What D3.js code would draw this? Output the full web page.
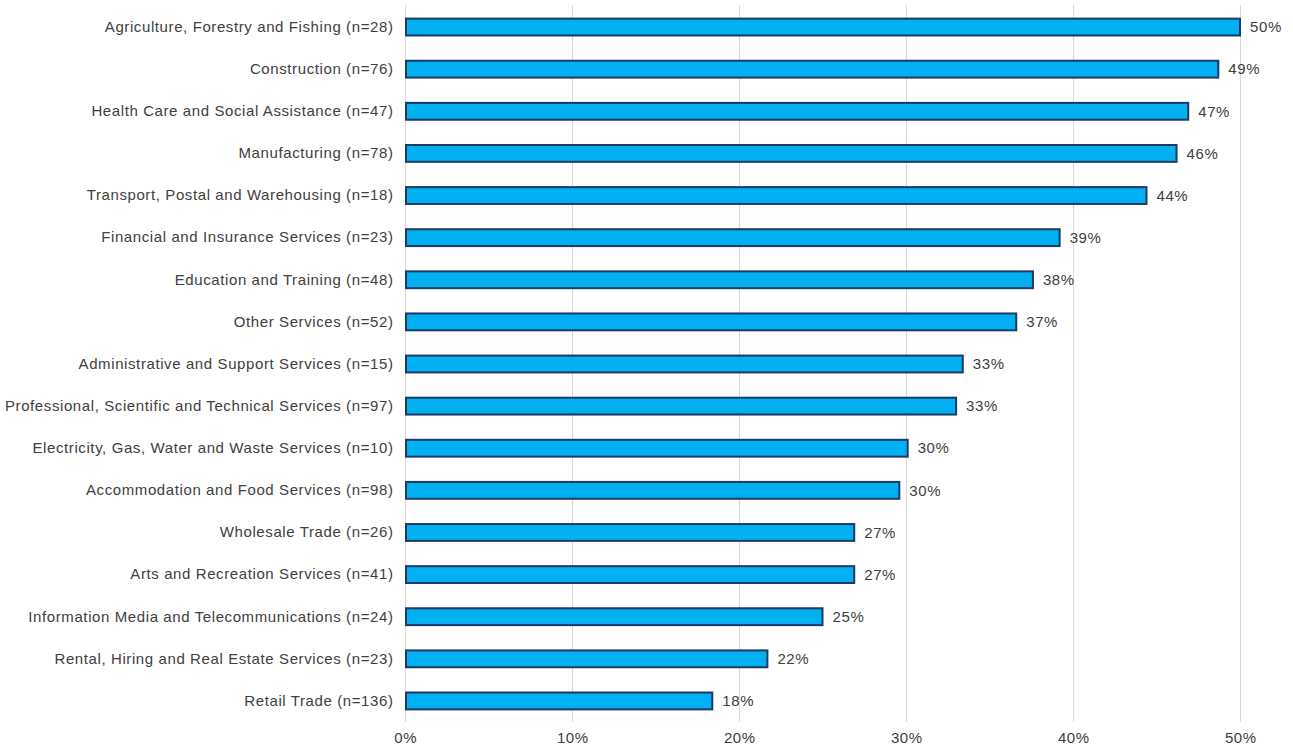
<!DOCTYPE html>
<html>
<head>
<meta charset="utf-8">
<script src="https://cdn.jsdelivr.net/npm/d3@7"></script>
<style>
  html, body { margin: 0; padding: 0; background: #fff; }
  svg { display: block; font-family: "Liberation Sans", Arial, sans-serif; }
  text { letter-spacing: 0.6px; }
</style>
</head>
<body>
<svg id="chart" width="1293" height="749"></svg>
<script>
// Share of businesses by industry (percent), with sample sizes
const industries = [
  "Agriculture, Forestry and Fishing",
  "Construction",
  "Health Care and Social Assistance",
  "Manufacturing",
  "Transport, Postal and Warehousing",
  "Financial and Insurance Services",
  "Education and Training",
  "Other Services",
  "Administrative and Support Services",
  "Professional, Scientific and Technical Services",
  "Electricity, Gas, Water and Waste Services",
  "Accommodation and Food Services",
  "Wholesale Trade",
  "Arts and Recreation Services",
  "Information Media and Telecommunications",
  "Rental, Hiring and Real Estate Services",
  "Retail Trade"
];
const sampleSizes = [28, 76, 47, 78, 18, 23, 48, 52, 15, 97, 10, 98, 26, 41, 24, 23, 136];
const shares = [50.0, 48.7, 46.9, 46.2, 44.4, 39.2, 37.6, 36.6, 33.4, 33.0, 30.1, 29.6, 26.9, 26.9, 25.0, 21.7, 18.4];
const xTicks = [0, 10, 20, 30, 40, 50];

const rows = industries.map((name, i) => ({
  label: `${name} (n=${sampleSizes[i]})`,
  value: shares[i]
}));

const svg = d3.select("#chart");
const plotLeft = 405, plotRight = 1240, plotTop = 6, plotBottom = 722;
const fontSize = 15;
const textColor = "#404040";

const x = d3.scaleLinear().domain([0, 50]).range([plotLeft, plotRight]);
const y = d3.scaleBand()
  .domain(rows.map(d => d.label))
  .range([plotTop, plotBottom])
  .paddingInner(0.6)
  .paddingOuter(0.3);

// vertical gridlines
svg.append("g")
  .selectAll("line")
  .data(xTicks)
  .join("line")
  .attr("x1", d => x(d) + 0.5)
  .attr("x2", d => x(d) + 0.5)
  .attr("y1", 5)
  .attr("y2", 722)
  .attr("stroke", "#d9d9d9")
  .attr("stroke-width", 1);

// x axis labels
const xAxis = d3.axisBottom(x).tickValues(xTicks).tickFormat(d => d + "%").tickSize(0).tickPadding(0);
svg.append("g")
  .attr("transform", `translate(0.3, 732)`)
  .call(xAxis)
  .call(g => g.select(".domain").remove())
  .call(g => g.selectAll("text")
    .attr("fill", textColor)
    .attr("font-size", fontSize)
    .attr("font-family", "Liberation Sans, Arial, sans-serif"));

// category labels
const yAxis = d3.axisLeft(y).tickSize(0).tickPadding(0);
svg.append("g")
  .attr("transform", `translate(393.5, 0)`)
  .call(yAxis)
  .call(g => g.select(".domain").remove())
  .call(g => g.selectAll("text")
    .attr("fill", textColor)
    .attr("font-size", fontSize)
    .attr("font-family", "Liberation Sans, Arial, sans-serif"));

// bars
svg.append("g")
  .selectAll("rect")
  .data(rows)
  .join("rect")
  .attr("x", x(0) + 1)
  .attr("y", d => y(d.label))
  .attr("width", d => x(d.value) - x(0) - 1)
  .attr("height", y.bandwidth())
  .attr("fill", "#00b0f0")
  .attr("stroke", "#1f3864")
  .attr("stroke-width", 2);

// value labels
svg.append("g")
  .selectAll("text")
  .data(rows)
  .join("text")
  .attr("x", d => x(d.value) + 10)
  .attr("y", d => y(d.label) + y.bandwidth() / 2)
  .attr("dy", "0.35em")
  .attr("fill", textColor)
  .attr("font-size", fontSize)
  .text(d => Math.round(d.value) + "%");
</script>
</body>
</html>
